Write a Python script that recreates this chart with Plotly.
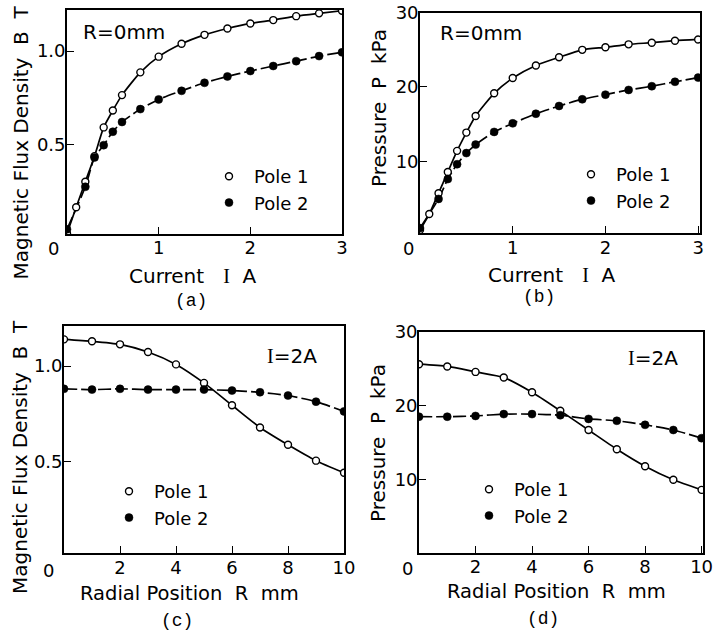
import plotly.graph_objects as go

# ---------------- data ----------------
# (a) Magnetic flux density vs current, R = 0 mm
a_I_p1 = [0.0, 0.1, 0.2, 0.3, 0.4, 0.5, 0.6, 0.8, 1.0, 1.25, 1.5, 1.75, 2.0, 2.25, 2.5, 2.75, 3.0]
a_B_p1 = [0.023, 0.163, 0.30, 0.437, 0.591, 0.682, 0.764, 0.886, 0.97, 1.039, 1.087, 1.121, 1.148, 1.166, 1.187, 1.202, 1.216]
a_I_p2 = [0.0, 0.2, 0.3, 0.4, 0.5, 0.6, 0.8, 1.0, 1.25, 1.5, 1.75, 2.0, 2.25, 2.5, 2.75, 3.0]
a_B_p2 = [0.045, 0.273, 0.43, 0.496, 0.568, 0.62, 0.689, 0.741, 0.787, 0.830, 0.864, 0.893, 0.92, 0.946, 0.973, 0.993]

# (b) Pressure vs current, R = 0 mm
b_I_p1 = [0.0, 0.1, 0.2, 0.3, 0.4, 0.5, 0.6, 0.8, 1.0, 1.25, 1.5, 1.75, 2.0, 2.25, 2.5, 2.75, 3.0]
b_P_p1 = [0.76, 2.9, 5.7, 8.56, 11.4, 13.86, 16.1, 19.15, 21.2, 22.9, 24.0, 25.0, 25.34, 25.74, 25.96, 26.23, 26.4]
b_I_p2 = [0.0, 0.2, 0.3, 0.4, 0.5, 0.6, 0.8, 1.0, 1.25, 1.5, 1.75, 2.0, 2.25, 2.5, 2.75, 3.0]
b_P_p2 = [1.0, 4.93, 7.6, 9.6, 11.1, 12.24, 13.95, 15.1, 16.4, 17.44, 18.34, 18.97, 19.6, 20.1, 20.7, 21.26]

# (c) Magnetic flux density vs radial position, I = 2 A
c_R = [0, 1, 2, 3, 4, 5, 6, 7, 8, 9, 10]
c_B_p1 = [1.14, 1.13, 1.114, 1.074, 1.009, 0.912, 0.795, 0.679, 0.588, 0.505, 0.442]
c_B_p2 = [0.881, 0.877, 0.881, 0.877, 0.877, 0.877, 0.872, 0.863, 0.846, 0.814, 0.763]

# (d) Pressure vs radial position, I = 2 A
d_R = [0, 1, 2, 3, 4, 5, 6, 7, 8, 9, 10]
d_P_p1 = [25.6, 25.3, 24.56, 23.8, 21.8, 19.3, 16.7, 14.1, 11.8, 9.96, 8.6]
d_P_p2 = [18.5, 18.5, 18.6, 18.85, 18.85, 18.7, 18.2, 17.95, 17.4, 16.7, 15.6]

series_names = ["Pole 1", "Pole 2"]
a_yticks = [0.5, 1.0]
a_yticktext = ["0.5", "1.0"]
p_yticks = [10, 20, 30]
p_yticktext = ["10", "20", "30"]
i_xticks = [1, 2, 3]
r_xticks = [2, 4, 6, 8, 10]

# ---------------- layout helpers ----------------
W, H = 720, 635
FONT = "DejaVu Sans"
MONO = "Liberation Mono"
SERIF = "Liberation Serif"


def px(x):
    return x / W


def py(y):
    return 1 - y / H


fig = go.Figure()

panels = [
    ("", a_I_p1, a_B_p1, a_I_p2, a_B_p2, "legend"),
    ("2", b_I_p1, b_P_p1, b_I_p2, b_P_p2, "legend2"),
    ("3", c_R, c_B_p1, c_R, c_B_p2, "legend3"),
    ("4", d_R, d_P_p1, d_R, d_P_p2, "legend4"),
]

for suf, x1, y1, x2, y2, leg in panels:
    xa, ya = "x" + suf, "y" + suf
    fig.add_trace(go.Scatter(x=x1, y=y1, mode="lines", xaxis=xa, yaxis=ya,
                             line=dict(color="black", width=1.7, shape="spline", smoothing=0.6),
                             showlegend=False, hoverinfo="skip"))
    fig.add_trace(go.Scatter(x=x2, y=y2, mode="lines", xaxis=xa, yaxis=ya,
                             line=dict(color="black", width=1.7, shape="spline", smoothing=0.6,
                                       dash="13px,4px"),
                             showlegend=False, hoverinfo="skip"))
    fig.add_trace(go.Scatter(x=x1, y=y1, mode="markers", xaxis=xa, yaxis=ya, name=series_names[0],
                             marker=dict(symbol="circle", size=7, color="white",
                                         line=dict(color="black", width=1.4)),
                             legend=leg))
    fig.add_trace(go.Scatter(x=x2, y=y2, mode="markers", xaxis=xa, yaxis=ya, name=series_names[1],
                             marker=dict(symbol="circle", size=8, color="black",
                                         line=dict(color="black", width=0.5)),
                             legend=leg))

axis_common = dict(showline=True, linecolor="black", linewidth=1.7, mirror=True,
                   ticks="inside", ticklen=7, tickwidth=1.4, tickcolor="black",
                   showgrid=False, zeroline=False, automargin=False,
                   tickfont=dict(family=FONT, size=18, color="black"))
xcommon = dict(ticklabelstandoff=-3, **axis_common)
ycommon = dict(ticklabelstandoff=-4, **axis_common)

layout = dict(
    width=W, height=H, autosize=False,
    margin=dict(l=0, r=0, t=0, b=0),
    paper_bgcolor="white", plot_bgcolor="white",
    font=dict(family=FONT, color="black"),
    xaxis=dict(domain=[px(67), px(342)], range=[0, 3], anchor="y", tickvals=i_xticks, **xcommon),
    yaxis=dict(domain=[py(234), py(10)], range=[0.02, 1.22], anchor="x",
               tickvals=a_yticks, ticktext=a_yticktext, **ycommon),
    xaxis2=dict(domain=[px(420), px(700)], range=[0, 3.02], anchor="y2", tickvals=i_xticks, **xcommon),
    yaxis2=dict(domain=[py(233.3), py(12.7)], range=[0.3, 30], anchor="x2",
                tickvals=p_yticks, ticktext=p_yticktext, **ycommon),
    xaxis3=dict(domain=[px(64), px(344)], range=[0, 10], anchor="y3", tickvals=r_xticks, **xcommon),
    yaxis3=dict(domain=[py(553.3), py(326)], range=[0.02, 1.21], anchor="x3",
                tickvals=a_yticks, ticktext=a_yticktext, **ycommon),
    xaxis4=dict(domain=[px(419), px(703)], range=[0, 10.05], anchor="y4", tickvals=r_xticks, **xcommon),
    yaxis4=dict(domain=[py(552.7), py(331.7)], range=[0.1, 30], anchor="x4",
                tickvals=p_yticks, ticktext=p_yticktext, **ycommon),
)

leg_common = dict(bgcolor="rgba(0,0,0,0)", borderwidth=0, font=dict(family=FONT, size=18, color="black"),
                  xanchor="left", yanchor="top", tracegroupgap=0, itemwidth=40)
layout["legend"] = dict(x=px(204), y=py(158), **leg_common)
layout["legend2"] = dict(x=px(566), y=py(156), **leg_common)
layout["legend3"] = dict(x=px(104), y=py(473), **leg_common)
layout["legend4"] = dict(x=px(464), y=py(471), **leg_common)
fig.update_layout(**layout)

ann = []


def text(x, y, s, size=20, family=FONT, angle=0):
    ann.append(dict(x=px(x), y=py(y), xref="paper", yref="paper", text=s, showarrow=False,
                    xanchor="center", yanchor="middle", textangle=angle, borderpad=0,
                    font=dict(family=family, size=size, color="black")))


NB = "\u00a0"
SI = "<span style='font-family:" + SERIF + "'>I</span>"
# y-axis titles
text(20, 142.5, "Magnetic Flux Density" + NB * 2 + "B" + NB * 2 + "T", angle=-90)
text(379, 108, "Pressure" + NB * 2 + "P" + NB * 2 + "kPa", angle=-90)
text(20, 457, "Magnetic Flux Density" + NB * 2 + "B" + NB * 2 + "T", angle=-90)
text(378, 443, "Pressure" + NB * 2 + "P" + NB * 2 + "kPa", angle=-90)
# x-axis titles
text(192.5, 276, "Current" + NB * 3 + SI + NB * 2 + "A")
text(551.7, 275, "Current" + NB * 3 + SI + NB * 2 + "A")
text(189, 593, "Radial Position" + NB * 2 + "R" + NB * 2 + "mm", size=19.5)
text(556.7, 591, "Radial Position" + NB * 2 + "R" + NB * 2 + "mm", size=19.5)
# origin labels
text(53, 248, "0", size=18)
text(408, 248, "0", size=18)
text(49, 570, "0", size=18)
text(407, 568, "0", size=18)
# in-plot conditions
text(124, 32, "R=0mm", size=20)
text(481, 33, "R=0mm", size=20)
text(291.5, 356, SI + "=2A", size=20)
text(652.5, 358, SI + "=2A", size=20)
# panel labels
text(191, 301, "(a)", size=18, family=MONO)
text(538.5, 297, "(b)", size=18, family=MONO)
text(177, 621, "(c)", size=18, family=MONO)
text(543, 619, "(d)", size=18, family=MONO)

fig.update_layout(annotations=ann)
fig.write_html("out.html", config={"displayModeBar": False},
               post_script="document.body.style.margin='0px';")
